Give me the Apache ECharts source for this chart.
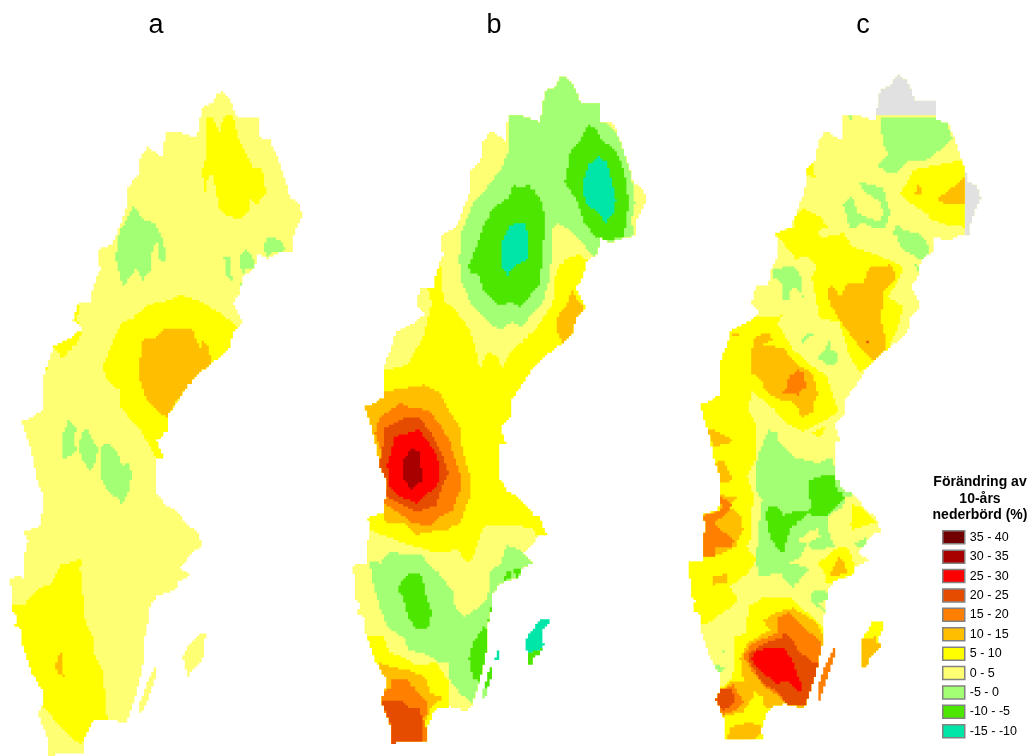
<!DOCTYPE html>
<html><head><meta charset="utf-8">
<style>html,body{margin:0;padding:0;background:#fff}#c{width:1029px;height:756px}</style>
<script src="https://cdn.jsdelivr.net/npm/echarts@6/dist/echarts.min.js"></script>
</head><body><div id="c"></div>
<script>
const panelLetters = ['a','b','c'];
const legendTitle = 'Förändring av\n10-års\nnederbörd (%)';
const classNames = ['35 - 40','30 - 35','25 - 30','20 - 25','15 - 20','10 - 15','5 - 10','0 - 5','-5 - 0','-10 - -5','-15 - -10'];
const classColors = ['#730000','#a80000','#ff0000','#e64c00','#ff7f00','#ffbf00','#ffff00','#ffff73','#a3ff73','#4ce600','#00e6a9'];
const noData = 'Ingen data';

// Mainland outline in map units (panel a position)
const sweden = [[217,93],[222,92],[230,100],[235,112],[237,118],[258,118],[258,137],[270,140],[277,157],[285,180],[290,198],[298,203],[303,215],[293,237],[292,251],[282,252],[268,258],[257,253],[255,268],[243,277],[240,293],[233,303],[243,322],[233,333],[230,347],[220,358],[212,363],[200,373],[187,387],[182,395],[172,410],[167,417],[167,431],[157,441],[163,458],[156,459],[156,494],[160,496],[165,506],[173,509],[183,519],[190,528],[197,531],[203,548],[195,549],[185,563],[180,568],[190,576],[177,583],[177,589],[168,593],[157,596],[150,606],[148,623],[145,636],[145,656],[140,679],[135,699],[128,719],[125,723],[107,719],[95,721],[90,726],[83,744],[85,754],[48,755],[47,736],[38,713],[42,704],[43,691],[32,673],[22,643],[22,629],[15,626],[17,616],[12,611],[13,601],[10,579],[15,576],[25,578],[25,553],[28,541],[24,531],[40,526],[43,506],[43,494],[37,479],[32,453],[22,421],[30,418],[42,410],[42,380],[50,357],[53,347],[72,337],[83,328],[73,320],[78,303],[90,303],[93,287],[100,270],[98,250],[113,243],[117,233],[127,207],[128,187],[138,175],[140,158],[147,147],[163,158],[165,132],[180,132],[197,138],[202,107],[213,102]];
// shift of the outline in each further panel: [dx, dy at the top, dy growth per map unit]
const shiftB = [343,-16,0.006];
const shiftC = [678,-17,0.003];

const aLand = [
 ['5 - 10',[[207,117],[213,118],[220,133],[223,117],[233,115],[240,143],[248,158],[252,168],[262,167],[266,193],[257,205],[248,198],[250,210],[242,218],[230,217],[220,210],[217,197],[213,175],[208,177],[205,193],[202,170],[207,153]]],
 ['-5 - 0',[[133,206],[143,220],[155,223],[163,240],[167,260],[160,263],[157,240],[152,253],[150,270],[143,280],[137,268],[123,287],[116,260],[117,237]]],
 ['-5 - 0',[[263,247],[267,237],[280,240],[287,250],[272,253],[268,258]]],
 ['-5 - 0',[[240,257],[245,248],[252,255],[255,268],[247,268],[242,277]]],
 ['-5 - 0',[[224,257],[230,258],[232,280],[227,278]]],
 ['-5 - 0',[[238,282],[243,285],[241,288]]],
 ['5 - 10',[[138,313],[147,305],[170,300],[180,295],[200,302],[220,313],[237,327],[250,327],[235,350],[220,358],[200,373],[182,395],[167,417],[172,431],[157,441],[170,458],[156,458],[150,446],[140,429],[128,416],[120,407],[120,390],[107,380],[103,367],[112,343],[122,323],[133,318]]],
 ['10 - 15',[[163,328],[180,328],[193,330],[200,350],[203,340],[208,347],[212,363],[200,373],[192,385],[182,395],[172,408],[170,418],[160,413],[147,400],[140,380],[140,360],[143,338],[158,337]]],
 ['5 - 10',[[53,347],[63,338],[72,337],[72,330],[83,330],[77,343],[63,358]]],
 ['5 - 10',[[50,357],[45,357],[40,375],[47,370]]],
 ['5 - 10',[[73,303],[78,303],[80,310],[73,325],[83,325],[75,318]]],
 ['-5 - 0',[[68,421],[77,429],[73,439],[77,449],[72,456],[63,458],[62,436]]],
 ['-5 - 0',[[87,428],[93,441],[98,449],[95,464],[90,471],[82,459],[78,446],[82,433]]],
 ['-5 - 0',[[108,443],[117,451],[122,466],[128,463],[132,474],[128,493],[122,506],[118,498],[110,494],[102,481],[100,459],[102,446]]],
 ['5 - 10',[[62,563],[68,563],[80,559],[83,561],[80,569],[83,596],[85,619],[93,639],[95,656],[103,673],[107,719],[95,721],[90,726],[82,744],[72,738],[57,723],[42,704],[30,704],[30,680],[5,630],[5,604],[25,604],[38,588],[52,584],[55,576]]],
 ['10 - 15',[[62,651],[63,671],[64,676],[60,675],[55,668],[58,656]]]
];
const aIslands = [
 ['0 - 5',[[200,633],[207,634],[203,646],[204,658],[190,673],[189,679],[187,673],[183,656],[190,643]]],
 ['0 - 5',[[157,661],[157,673],[147,703],[142,714],[138,708],[147,683]]]
];

const bLand = [
 ['5 - 10',[[300,60],[690,60],[690,750],[300,750]]],
 ['0 - 5',[[407,203],[433,237],[437,267],[442,265],[443,300],[455,310],[470,330],[478,360],[480,370],[487,352],[497,357],[502,368],[510,353],[537,327],[553,303],[555,277],[558,267],[567,258],[578,255],[587,260],[607,257],[673,203],[673,70],[407,70]]],
 ['0 - 5',[[380,370],[385,370],[407,365],[423,337],[428,317],[432,303],[428,288],[415,287],[380,303]]],
 ['-5 - 0',[[507,70],[600,70],[599,103],[602,120],[617,133],[627,160],[633,185],[635,203],[632,220],[633,237],[607,243],[598,255],[593,257],[583,243],[570,230],[557,222],[553,230],[550,277],[543,303],[533,313],[522,327],[513,322],[500,330],[487,320],[473,307],[462,283],[459,260],[462,230],[473,203],[487,187],[500,170],[508,153],[508,117]]],
 ['-10 - -5',[[588,125],[595,127],[602,140],[613,148],[620,160],[627,183],[628,203],[627,223],[623,237],[610,240],[597,238],[583,220],[577,200],[565,182],[570,153],[580,140]]],
 ['-15 - -10',[[598,157],[607,163],[612,183],[616,200],[613,215],[606,222],[597,212],[585,202],[583,183],[588,165]]],
 ['-10 - -5',[[513,185],[522,188],[528,185],[540,198],[545,217],[543,250],[540,283],[527,300],[520,307],[510,302],[500,306],[483,290],[478,273],[472,273],[468,267],[475,250],[483,227],[493,208],[508,198]]],
 ['-15 - -10',[[510,225],[525,223],[529,240],[527,260],[513,267],[508,275],[502,267],[501,242]]],
 ['10 - 15',[[572,290],[578,302],[585,307],[577,322],[572,337],[563,345],[557,330],[558,315],[567,303]]],
 ['10 - 15',[[380,392],[393,390],[423,385],[440,393],[450,413],[460,428],[462,447],[470,477],[470,497],[460,523],[447,530],[430,532],[417,535],[403,523],[387,523],[382,513],[375,505],[355,450],[355,400],[375,395]]],
 ['15 - 20',[[375,433],[380,417],[400,403],[410,408],[428,410],[440,425],[450,442],[455,460],[460,475],[460,490],[453,510],[440,517],[428,527],[412,522],[398,512],[383,503],[387,483],[380,467],[382,453]]],
 ['20 - 25',[[385,428],[403,418],[420,418],[433,437],[443,458],[449,473],[440,492],[437,505],[417,512],[400,503],[383,495],[387,483],[378,465],[382,453]]],
 ['25 - 30',[[393,437],[418,430],[427,440],[437,455],[440,475],[437,487],[423,497],[417,503],[403,498],[390,488],[387,463],[392,452]]],
 ['30 - 35',[[412,448],[421,453],[421,468],[423,480],[412,489],[404,480],[403,460]]],
 ['0 - 5',[[340,525],[368,530],[383,535],[403,543],[437,553],[457,550],[468,563],[473,557],[483,527],[503,525],[517,525],[535,530],[537,537],[560,545],[560,700],[470,720],[450,712],[450,705],[448,680],[437,663],[417,665],[398,655],[390,653],[383,635],[368,637],[340,640]]],
 ['-5 - 0',[[370,562],[380,563],[390,552],[407,555],[420,553],[428,565],[438,573],[453,592],[453,603],[463,617],[477,608],[488,597],[490,570],[500,565],[507,545],[522,552],[533,562],[530,600],[500,700],[473,697],[472,703],[460,693],[450,680],[448,662],[437,662],[430,655],[408,650],[405,638],[388,627],[380,607],[373,583]]],
 ['-10 - -5',[[408,573],[422,575],[427,600],[432,613],[428,628],[418,630],[408,617],[403,597],[397,588]]],
 ['-10 - -5',[[483,627],[488,630],[486,663],[480,682],[473,678],[469,657],[473,642]]],
 ['10 - 15',[[380,663],[390,667],[408,670],[425,677],[430,693],[443,698],[433,705],[428,715],[425,723],[427,750],[390,750],[370,697]]],
 ['15 - 20',[[392,680],[407,680],[420,695],[428,703],[428,713],[423,720],[427,730],[427,750],[390,750],[370,697],[390,688]]],
 ['20 - 25',[[385,700],[402,700],[408,707],[418,707],[423,720],[423,750],[390,750],[390,723],[382,702]]]
];
const bIslands = [
 ['-10 - -5',[[503,582],[507,570],[512,573],[510,578]]],
 ['-10 - -5',[[513,570],[522,568],[518,578]]],
 ['-10 - -5',[[490,603],[491,610],[489,622],[488,622]]],
 ['-15 - -10',[[540,620],[548,618],[550,623],[543,630],[542,643],[545,643],[542,650],[528,655],[525,640],[532,630]]],
 ['-10 - -5',[[528,653],[542,648],[539,655],[533,658],[532,665],[529,665]]],
 ['-15 - -10',[[499,647],[500,658],[497,662],[495,660]]],
 ['-10 - -5',[[493,663],[492,677],[487,690],[484,687],[488,672]]],
 ['-5 - 0',[[484,687],[487,692],[485,700],[482,698],[482,692]]]
];

const cNoData = [
 [[860,60],[950,60],[950,116],[860,116]],
 [[964,160],[995,160],[995,245],[964,245]]
];
const cLand = [
 ['-5 - 0',[[880,117],[933,117],[947,123],[952,138],[943,148],[927,160],[907,162],[898,173],[888,173],[877,165],[888,155],[883,142]]],
 ['-5 - 0',[[848,116],[853,116],[853,123]]],
 ['5 - 10',[[907,182],[913,170],[937,165],[964,160],[964,227],[947,225],[933,220],[923,210],[910,203],[900,193]]],
 ['10 - 15',[[964,177],[964,205],[947,205],[936,199],[947,192]]],
 ['10 - 15',[[918,185],[923,190],[920,196],[915,194]]],
 ['5 - 10',[[813,162],[815,178],[800,172]]],
 ['-5 - 0',[[860,182],[883,188],[887,203],[891,213],[885,227],[877,229],[868,225],[860,223],[857,227],[850,228],[843,203],[852,195],[857,212],[867,218],[880,222],[883,212],[880,202],[862,190]]],
 ['-5 - 0',[[897,225],[903,230],[917,233],[925,240],[930,252],[922,260],[910,253],[900,247],[898,237],[891,233]]],
 ['-5 - 0',[[915,265],[920,270],[918,271]]],
 ['5 - 10',[[803,208],[820,217],[827,227],[818,230],[820,238],[843,233],[853,247],[877,255],[903,267],[900,277],[888,297],[903,307],[898,327],[887,353],[872,365],[860,372],[850,357],[840,323],[820,318],[812,277],[817,267],[807,255],[797,260],[787,247],[775,233],[795,227],[792,218]]],
 ['10 - 15',[[870,267],[890,265],[897,277],[883,292],[883,307],[880,318],[885,337],[885,355],[875,365],[870,357],[858,345],[840,320],[830,303],[827,290],[832,285],[840,297],[847,283],[863,282]]],
 ['20 - 25',[[865,333],[869,345],[866,340]]],
 ['-5 - 0',[[773,270],[790,265],[800,273],[803,297],[797,288],[790,290],[788,302],[782,297],[783,283],[773,277]]],
 ['-5 - 0',[[800,340],[808,333],[817,333],[807,338],[802,345]]],
 ['-5 - 0',[[830,340],[830,350],[837,352],[838,363],[828,365],[818,357],[825,350]]],
 ['5 - 10',[[730,327],[748,315],[763,318],[783,315],[777,323],[793,350],[813,367],[827,377],[837,407],[837,413],[820,423],[803,432],[787,423],[763,405],[752,400],[748,410],[757,420],[757,457],[747,477],[755,500],[750,513],[752,537],[747,547],[757,560],[748,573],[730,587],[738,600],[727,610],[713,620],[698,627],[693,607],[680,600],[680,560],[660,560],[660,327]]],
 ['0 - 5',[[748,410],[752,392],[773,408],[790,430],[760,430]]],
 ['10 - 15',[[752,350],[755,337],[768,332],[773,340],[763,345],[783,348],[795,363],[812,373],[818,395],[815,400],[813,412],[802,417],[795,403],[786,400],[780,400],[767,392],[760,378],[750,372]]],
 ['15 - 20',[[797,370],[803,372],[806,387],[798,395],[783,393],[787,388],[788,378]]],
 ['10 - 15',[[732,333],[738,335],[732,337]]],
 ['10 - 15',[[707,428],[725,435],[733,442],[715,447],[710,440]]],
 ['10 - 15',[[713,463],[723,460],[733,480],[722,483],[715,470]]],
 ['10 - 15',[[718,495],[737,497],[730,507],[740,515],[743,530],[735,548],[713,557],[695,557],[695,517],[720,510]]],
 ['15 - 20',[[718,495],[733,505],[723,517],[713,523],[723,532],[735,542],[730,548],[715,548],[715,557],[695,557],[695,517],[717,512],[723,507]]],
 ['10 - 15',[[713,577],[727,573],[727,583],[712,585]]],
 ['-5 - 0',[[768,430],[778,433],[778,442],[793,457],[817,463],[833,457],[835,475],[853,495],[845,498],[843,507],[827,517],[827,528],[835,547],[813,550],[808,543],[800,557],[790,563],[805,567],[808,570],[793,588],[780,573],[760,577],[756,560],[760,517],[762,500],[755,488],[757,480],[755,467],[760,450]]],
 ['-10 - -5',[[810,480],[827,474],[834,474],[837,490],[845,497],[827,517],[813,517],[808,513],[790,530],[783,555],[772,540],[768,527],[766,515],[768,507],[777,507],[783,515],[793,512],[807,512],[812,507],[808,490]]],
 ['0 - 5',[[797,542],[807,532],[818,528],[820,537],[808,543]]],
 ['5 - 10',[[852,505],[862,507],[875,522],[853,530],[850,525],[853,513]]],
 ['-5 - 0',[[853,543],[867,538],[868,543],[862,548]]],
 ['5 - 10',[[818,563],[837,548],[848,548],[853,560],[855,577],[847,575],[837,585],[827,583],[823,570]]],
 ['10 - 15',[[838,557],[843,560],[847,573],[832,577],[830,573]]],
 ['-5 - 0',[[810,597],[815,590],[828,592],[827,600],[818,603],[827,613],[812,602]]],
 ['5 - 10',[[812,433],[827,425],[823,433],[818,438]]],
 ['5 - 10',[[748,607],[763,597],[790,597],[800,608],[813,617],[825,630],[840,663],[825,700],[808,708],[793,708],[775,712],[770,745],[720,745],[710,707],[705,697],[727,683],[733,677],[735,637],[747,633]]],
 ['10 - 15',[[763,620],[777,612],[793,608],[817,623],[823,637],[840,667],[825,700],[807,708],[765,708],[763,697],[747,687],[742,673],[740,657],[748,642],[770,630]]],
 ['15 - 20',[[777,617],[788,613],[798,622],[818,640],[823,647],[840,667],[825,703],[780,697],[763,685],[750,667],[743,655],[753,643],[777,633]]],
 ['20 - 25',[[783,633],[792,640],[797,650],[812,662],[840,662],[825,708],[787,705],[780,693],[763,683],[750,663],[748,653],[767,642],[782,638]]],
 ['25 - 30',[[767,648],[783,647],[792,660],[798,677],[803,687],[800,693],[790,682],[777,683],[763,673],[752,660],[753,652]]],
 ['10 - 15',[[730,682],[752,680],[753,697],[743,712],[723,717],[712,697]]],
 ['15 - 20',[[720,690],[733,685],[743,702],[737,710],[723,715],[705,697]]],
 ['20 - 25',[[722,688],[732,688],[735,702],[725,710],[708,698]]],
 ['10 - 15',[[725,745],[730,727],[750,722],[770,730],[743,745]]],
 ['-5 - 0',[[720,652],[725,651],[723,655]]],
 ['-5 - 0',[[713,665],[727,667],[720,672]]]
];
const cIslands = [
 ['5 - 10',[[872,622],[884,620],[882,630],[877,643],[882,645],[870,657],[865,667],[862,665],[862,638],[868,630]]],
 ['10 - 15',[[862,638],[877,637],[877,643],[882,645],[870,657],[867,667],[862,666]]],
 ['15 - 20',[[834,648],[837,650],[830,670],[823,690],[819,702],[817,690],[823,670]]]
];

function moved(ring, s){ return ring.map(p => [p[0]+s[0], p[1]+s[1]+(p[1]-93)*s[2]]); }
const landA = sweden, landB = moved(sweden, shiftB), landC = moved(sweden, shiftC);

// The source is a raster of about 2.4 units a cell: follow each ring along that grid.
const cell = 2.4;
function stepped(ring){
  const out = [];
  let last = null;
  const snap = v => Math.round(v/cell)*cell;
  ring.forEach((a,i) => {
    const b = ring[(i+1)%ring.length];
    const n = Math.max(1, Math.ceil(Math.hypot(b[0]-a[0], b[1]-a[1])));
    for (let k=0;k<n;k++){
      const q = [snap(a[0]+(b[0]-a[0])*k/n), snap(a[1]+(b[1]-a[1])*k/n)];
      if (!last || q[0]!==last[0] || q[1]!==last[1]){
        if (last && q[0]!==last[0] && q[1]!==last[1]) out.push([q[0], last[1]]);
        out.push(q); last = q;
      }
    }
  });
  return out;
}

// painter's order: panel base, then layers, then islands
const regions = [];
function add(cls, pts, clip){ regions.push({cls, pts:stepped(pts), clip:clip?stepped(clip):null, order: regions.length + 1}); }
add('0 - 5', landA, null);
aLand.forEach(r => add(r[0], r[1], landA));
aIslands.forEach(r => add(r[0], r[1], null));
bLand.forEach(r => add(r[0], r[1], landB));
bIslands.forEach(r => add(r[0], r[1], null));
add('0 - 5', landC, null);
cNoData.forEach(r => add(noData, r, landC));
cLand.forEach(r => add(r[0], r[1], landC));
cIslands.forEach(r => add(r[0], r[1], null));

const colorOf = {};
classNames.forEach((n,i) => colorOf[n] = classColors[i]);
colorOf[noData] = '#e1e1e1';

const renderItem = (params, api) => {
  const r = regions[api.value(0)];
  const project = ring => ring.map(p => api.coord(p));
  const el = { type:'polygon', z2:r.order, shape:{points:project(r.pts)}, style:{fill:colorOf[r.cls]} };
  if (r.clip) el.clipPath = { type:'polygon', shape:{points:project(r.clip)} };
  return el;
};

const series = classNames.concat([noData]).map(name => ({
  type:'custom', name, coordinateSystem:'cartesian2d', renderItem, clip:false, animation:false, silent:true,
  itemStyle:{color:colorOf[name]},
  data: regions.map((r,i)=>r.cls===name?[i]:null).filter(v=>v)
}));

const titleX = [156,494,863];
const chart = echarts.init(document.getElementById('c'), null, {renderer:'canvas'});
chart.setOption({
  animation:false,
  backgroundColor:'#fff',
  grid:{left:0,right:0,top:0,bottom:0},
  xAxis:{type:'value',min:0,max:1029,show:false},
  yAxis:{type:'value',min:0,max:756,inverse:true,show:false},
  title: panelLetters.map((t,i)=>({text:t,left:titleX[i],top:12,padding:0,textAlign:'center',
      textStyle:{fontFamily:'Liberation Sans',fontSize:27,fontWeight:'normal',color:'#000'}}))
    .concat([{text:legendTitle,left:980,top:474,padding:0,textAlign:'center',
      textStyle:{fontFamily:'Liberation Sans',fontSize:14,fontWeight:'bold',color:'#000',lineHeight:16.5}}]),
  legend:{
    data:classNames.map(n=>({name:n,icon:'rect',itemStyle:{color:colorOf[n],borderColor:'#828282',borderWidth:1.5}})),
    orient:'vertical',left:942,top:530,itemWidth:22,itemHeight:13,itemGap:4.9,padding:0,selectedMode:false,
    textStyle:{fontFamily:'Liberation Sans',fontSize:12.5,color:'#000'}
  },
  series
});
</script></body></html>
